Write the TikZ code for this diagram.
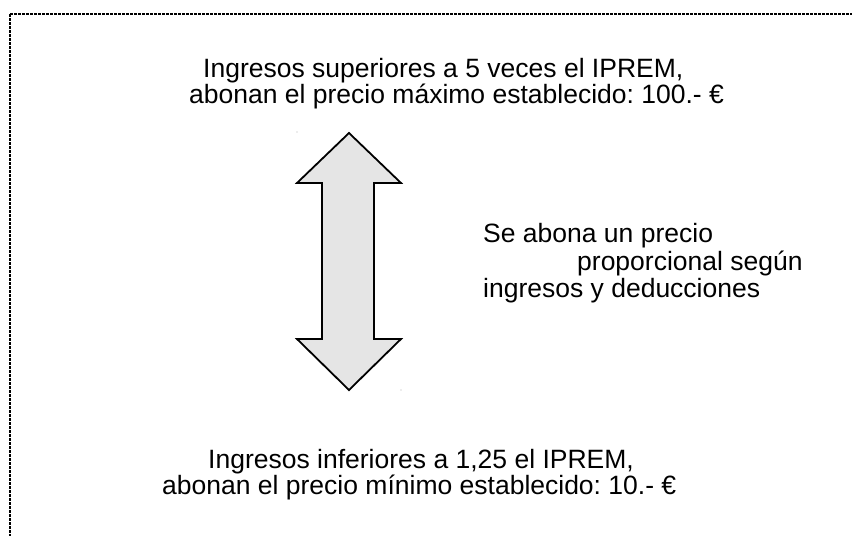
\documentclass[tikz,border=0pt]{standalone}
\usepackage{fontspec}
\setmainfont{Liberation Sans}
\frenchspacing
\begin{document}
\begin{tikzpicture}[x=1pt,y=-1pt,
  txt/.style={anchor=base west,inner sep=0pt,font=\fontsize{26.5}{30}\selectfont},
  frame/.style={line width=2pt,dash pattern=on 2.6pt off 1.4pt},
  bigarrow/.style={draw=black,line width=1.8pt,fill=gray!20,line join=miter}]
\useasboundingbox (0,0) rectangle (852,536);
% dotted frame (top and left)
\draw[frame] (10,14) -- (852,14);
\draw[frame] (10,14) -- (10,536);
% double arrow
\draw[bigarrow] (349,133) -- (401,183) -- (374,183) -- (374,339) -- (401,339)
  -- (349,390) -- (297,339) -- (322,339) -- (322,183) -- (297,183) -- cycle;
\fill[gray!60] (297,132) circle (0.6);
\fill[gray!60] (401,390) circle (0.6);
% texts
\node[txt] (t1) at (203,77) {Ingresos superiores a 5 veces el IPREM,};
\node[txt] (t2) at (189,103) {abonan el precio máximo establecido: 100.- €};
\node[txt] (m1) at (483,242) {Se abona un precio};
\node[txt] (m2) at (577,270) {proporcional según};
\node[txt] (m3) at (483,297) {ingresos y deducciones};
\node[txt] (b1) at (208,468) {Ingresos inferiores a 1,25 el IPREM,};
\node[txt] (b2) at (162,494) {abonan el precio mínimo establecido: 10.- €};
\end{tikzpicture}
\end{document}
